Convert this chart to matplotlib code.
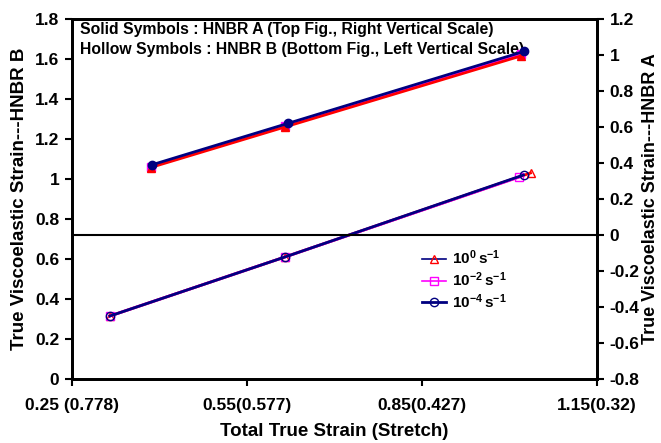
import matplotlib
matplotlib.use("Agg")
import matplotlib.pyplot as plt
from matplotlib.lines import Line2D

plt.rcParams['font.family'] = ['Liberation Sans', 'DejaVu Sans']
plt.rcParams['font.weight'] = 'bold'
plt.rcParams['mathtext.fontset'] = 'custom'
plt.rcParams['mathtext.rm'] = 'Liberation Sans:bold'
plt.rcParams['mathtext.bf'] = 'Liberation Sans:bold'

rates = ['$\\mathbf{10^{0}\\,s^{-1}}$', '$\\mathbf{10^{-2}\\,s^{-1}}$', '$\\mathbf{10^{-4}\\,s^{-1}}$']
colors = ['red', 'magenta', 'navy']
markers = ['^', 's', 'o']
top_order = [3, 2, 4]

# HNBR A, solid symbols, right scale
strain_a = [[0.385, 0.615, 1.02], [0.385, 0.615, 1.02], [0.387, 0.62, 1.025]]
visco_a = [[0.375, 0.60, 0.995], [0.38, 0.605, 1.005], [0.39, 0.62, 1.02]]

# HNBR B, hollow symbols, left scale
strain_b = [[0.315, 0.615, 1.036], [0.315, 0.615, 1.017], [0.315, 0.615, 1.024]]
visco_b = [[0.315, 0.61, 1.03], [0.315, 0.61, 1.01], [0.315, 0.61, 1.02]]

xticks = [0.25, 0.55, 0.85, 1.15]
xticklabels = ['0.25 (0.778)', '0.55(0.577)', '0.85(0.427)', '1.15(0.32)']
left_ticks = [0, 0.2, 0.4, 0.6, 0.8, 1, 1.2, 1.4, 1.6, 1.8]
right_ticks = [-0.8, -0.6, -0.4, -0.2, 0, 0.2, 0.4, 0.6, 0.8, 1, 1.2]


def fmt(v):
    s = f"{v:.1f}"
    return s[:-2] if s.endswith('.0') else s


fig = plt.figure(figsize=(6.61, 4.43), dpi=100)
ax = fig.add_axes([72 / 661, 1 - 379 / 443, (597 - 72) / 661, (379 - 19) / 443])
ax2 = ax.twinx()

for xs, ys, c, m in zip(strain_b, visco_b, colors, markers):
    ax.plot(xs, ys, color=c, marker=m, markerfacecolor='none', markeredgecolor=c,
            markersize=6, linewidth=2)

ax2.axhline(0, color='black', linewidth=1.5)
for xs, ys, c, m, z in zip(strain_a, visco_a, colors, markers, top_order):
    ax2.plot(xs, ys, color=c, marker=m, markerfacecolor=c, markeredgecolor=c,
             markersize=6, linewidth=2, zorder=z)

ax.set_xlim(0.25, 1.15)
ax.set_ylim(0, 1.8)
ax2.set_ylim(-0.8, 1.2)

ax.set_xticks(xticks)
ax.set_xticklabels(xticklabels, fontsize=12.5, fontweight='bold')
ax.set_yticks(left_ticks)
ax.set_yticklabels([fmt(v) for v in left_ticks], fontsize=12.5, fontweight='bold')
ax2.set_yticks(right_ticks)
ax2.set_yticklabels([fmt(v) for v in right_ticks], fontsize=12.5, fontweight='bold')

for a in (ax, ax2):
    for s in a.spines.values():
        s.set_linewidth(2)
    a.tick_params(direction='out', length=5, width=1.5, pad=4)
ax.tick_params(axis='x', pad=9)

ax.set_xlabel('Total True Strain (Stretch)', fontsize=13.5, fontweight='bold', labelpad=7)
ax.set_ylabel('True Viscoelastic Strain---HNBR B', fontsize=13.5, fontweight='bold', labelpad=5)
ax2.set_ylabel('True Viscoelastic Strain---HNBR A', fontsize=13, fontweight='bold',
               rotation=90, labelpad=2)

ax.text(0.015, 0.992, 'Solid Symbols : HNBR A (Top Fig., Right Vertical Scale)\n'
        'Hollow Symbols : HNBR B (Bottom Fig., Left Vertical Scale)',
        transform=ax.transAxes, fontsize=11.3, fontweight='bold', va='top',
        linespacing=1.45)

handles = [Line2D([], [], color=c, marker=m, markerfacecolor='none', markeredgecolor=c,
                  markersize=6, linewidth=2) for c, m in zip(['navy', 'magenta', 'navy'], markers)]
handles[0].set_linewidth(1.2)
handles[0].set_markeredgecolor('red')
handles[1].set_linewidth(1.2)
ax2.legend(handles, rates, loc='upper left', bbox_to_anchor=(0.64, 0.40), frameon=False,
           fontsize=11, handlelength=1.6, labelspacing=0.2, handletextpad=0.4)

fig.savefig('out.png', dpi=100)
